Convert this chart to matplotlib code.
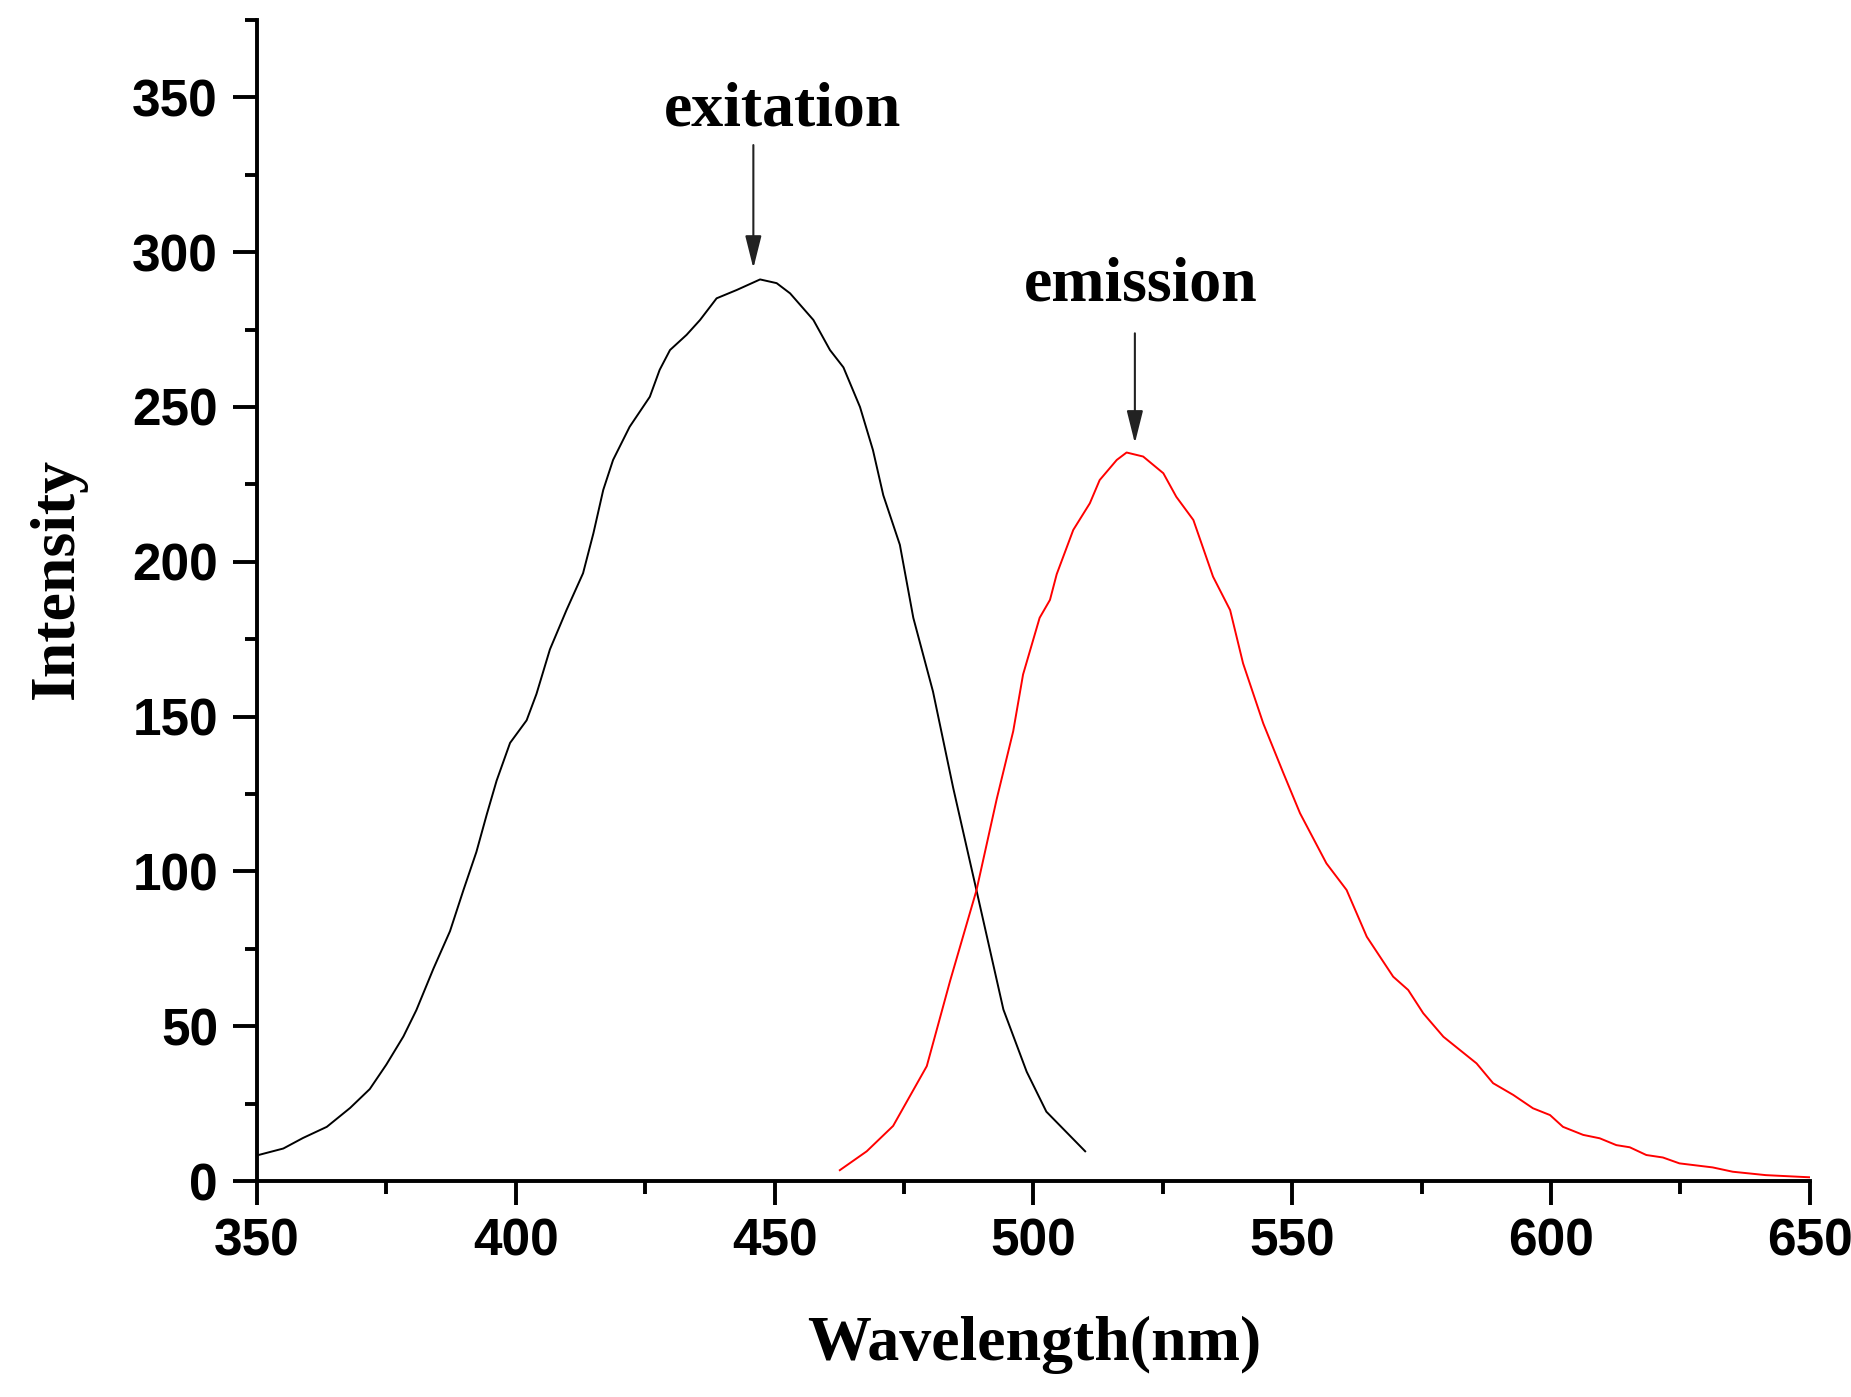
import numpy as np
import matplotlib
matplotlib.use('Agg')
import matplotlib.pyplot as plt
from matplotlib.ticker import MultipleLocator

# excitation spectrum (black)
ex_wl = [350.3, 355.1, 358.9, 363.5, 368.0, 371.8, 375.0, 378.3, 380.8, 384.1,
         387.3, 389.9, 392.4, 394.4, 396.3, 398.9, 402.1, 404.0, 406.6, 409.8,
         413.0, 415.0, 416.9, 418.8, 422.0, 425.9, 427.8, 429.8, 433.0, 435.6,
         438.8, 442.7, 447.2, 450.4, 453.0, 457.5, 460.7, 463.3, 466.5, 469.0,
         471.0, 474.2, 476.8, 480.6, 484.5, 489.0, 494.2, 498.7, 502.5, 510.0]
ex_int = [8.4, 10.5, 13.9, 17.5, 23.6, 29.7, 37.6, 46.7, 55.2, 68.6,
          80.7, 94.0, 106.3, 118.4, 129.3, 141.5, 148.8, 157.3, 171.7, 184.4,
          196.3, 209.2, 223.2, 232.9, 243.6, 253.3, 262.0, 268.4, 273.3, 278.1,
          285.1, 287.8, 291.2, 290.0, 286.7, 278.1, 268.4, 262.8, 250.0, 236.1,
          221.5, 205.5, 181.9, 158.1, 127.0, 93.9, 55.4, 35.3, 22.4, 9.6]

# emission spectrum (red)
em_wl = [462.6, 467.8, 472.9, 479.4, 483.9, 489.0, 492.9, 496.1, 498.0, 501.2,
         503.2, 504.5, 507.7, 510.9, 512.8, 516.1, 518.0, 521.2, 525.1, 527.6,
         530.9, 534.7, 538.0, 540.5, 544.4, 548.3, 551.5, 556.6, 560.5, 564.4,
         569.5, 572.4, 575.3, 579.2, 585.6, 588.8, 592.7, 596.5, 599.8, 602.3,
         606.2, 609.4, 612.6, 615.2, 618.4, 621.6, 624.8, 631.2, 635.1, 641.5,
         650.0]
em_int = [3.5, 9.6, 17.8, 37.1, 64.6, 93.9, 123.3, 145.3, 163.6, 181.9,
          187.7, 196.0, 210.3, 218.9, 226.4, 232.9, 235.3, 234.0, 228.6, 221.0,
          213.5, 195.2, 184.4, 167.2, 147.8, 131.7, 118.8, 102.6, 94.0, 78.9,
          66.0, 61.7, 54.2, 46.6, 38.0, 31.6, 27.8, 23.5, 21.3, 17.5,
          14.9, 13.8, 11.6, 10.9, 8.4, 7.6, 5.7, 4.4, 3.0, 1.9,
          1.2]

fig = plt.figure(figsize=(18.51, 13.97), dpi=100)
ax = fig.add_axes([0.1388, 0.1546, 0.839, 0.8311])

ax.plot(ex_wl, ex_int, color='black', lw=1.4, solid_joinstyle='round')
ax.plot(em_wl, em_int, color='red', lw=1.4, solid_joinstyle='round')

ax.set_xlim(350, 650)
ax.set_ylim(0, 375)

for s in ['top', 'right']:
    ax.spines[s].set_visible(False)
for s in ['left', 'bottom']:
    ax.spines[s].set_linewidth(2.8)

ax.xaxis.set_major_locator(MultipleLocator(50))
ax.xaxis.set_minor_locator(MultipleLocator(25))
ax.yaxis.set_major_locator(MultipleLocator(50))
ax.yaxis.set_minor_locator(MultipleLocator(25))
ax.tick_params(which='major', direction='out', length=17, width=2.8)
ax.tick_params(which='minor', direction='out', length=9, width=2.8)
ax.tick_params(axis='x', which='major', pad=9)
ax.tick_params(axis='y', which='major', pad=11)

for lab in ax.get_xticklabels() + ax.get_yticklabels():
    lab.set_fontfamily('Liberation Sans')
    lab.set_fontweight('bold')
    lab.set_fontsize(37)

serif = dict(fontfamily='Liberation Serif', fontweight='bold', fontsize=46)
fig.text(0.5585, 1 - 1360 / 1397, 'Wavelength(nm)', ha='center', va='baseline', **serif)
fig.text(0.031, 1 - 578 / 1397, 'Intensity', rotation=90, ha='center', va='center', **serif)

# annotations
ax.text(451.5, 341, 'exitation', ha='center', va='baseline', **serif)
ax.text(520.8, 284.4, 'emission', ha='center', va='baseline', **serif)

arrow = dict(arrowstyle='-|>,head_length=0.4,head_width=0.1', color='#222222',
             lw=1.5, mutation_scale=50, shrinkA=0, shrinkB=0)
ax.annotate('', xy=(445.9, 294.8), xytext=(445.9, 334.6), arrowprops=arrow)
ax.annotate('', xy=(519.6, 238.3), xytext=(519.6, 273.8), arrowprops=arrow)

fig.savefig('out.png', dpi=100)
